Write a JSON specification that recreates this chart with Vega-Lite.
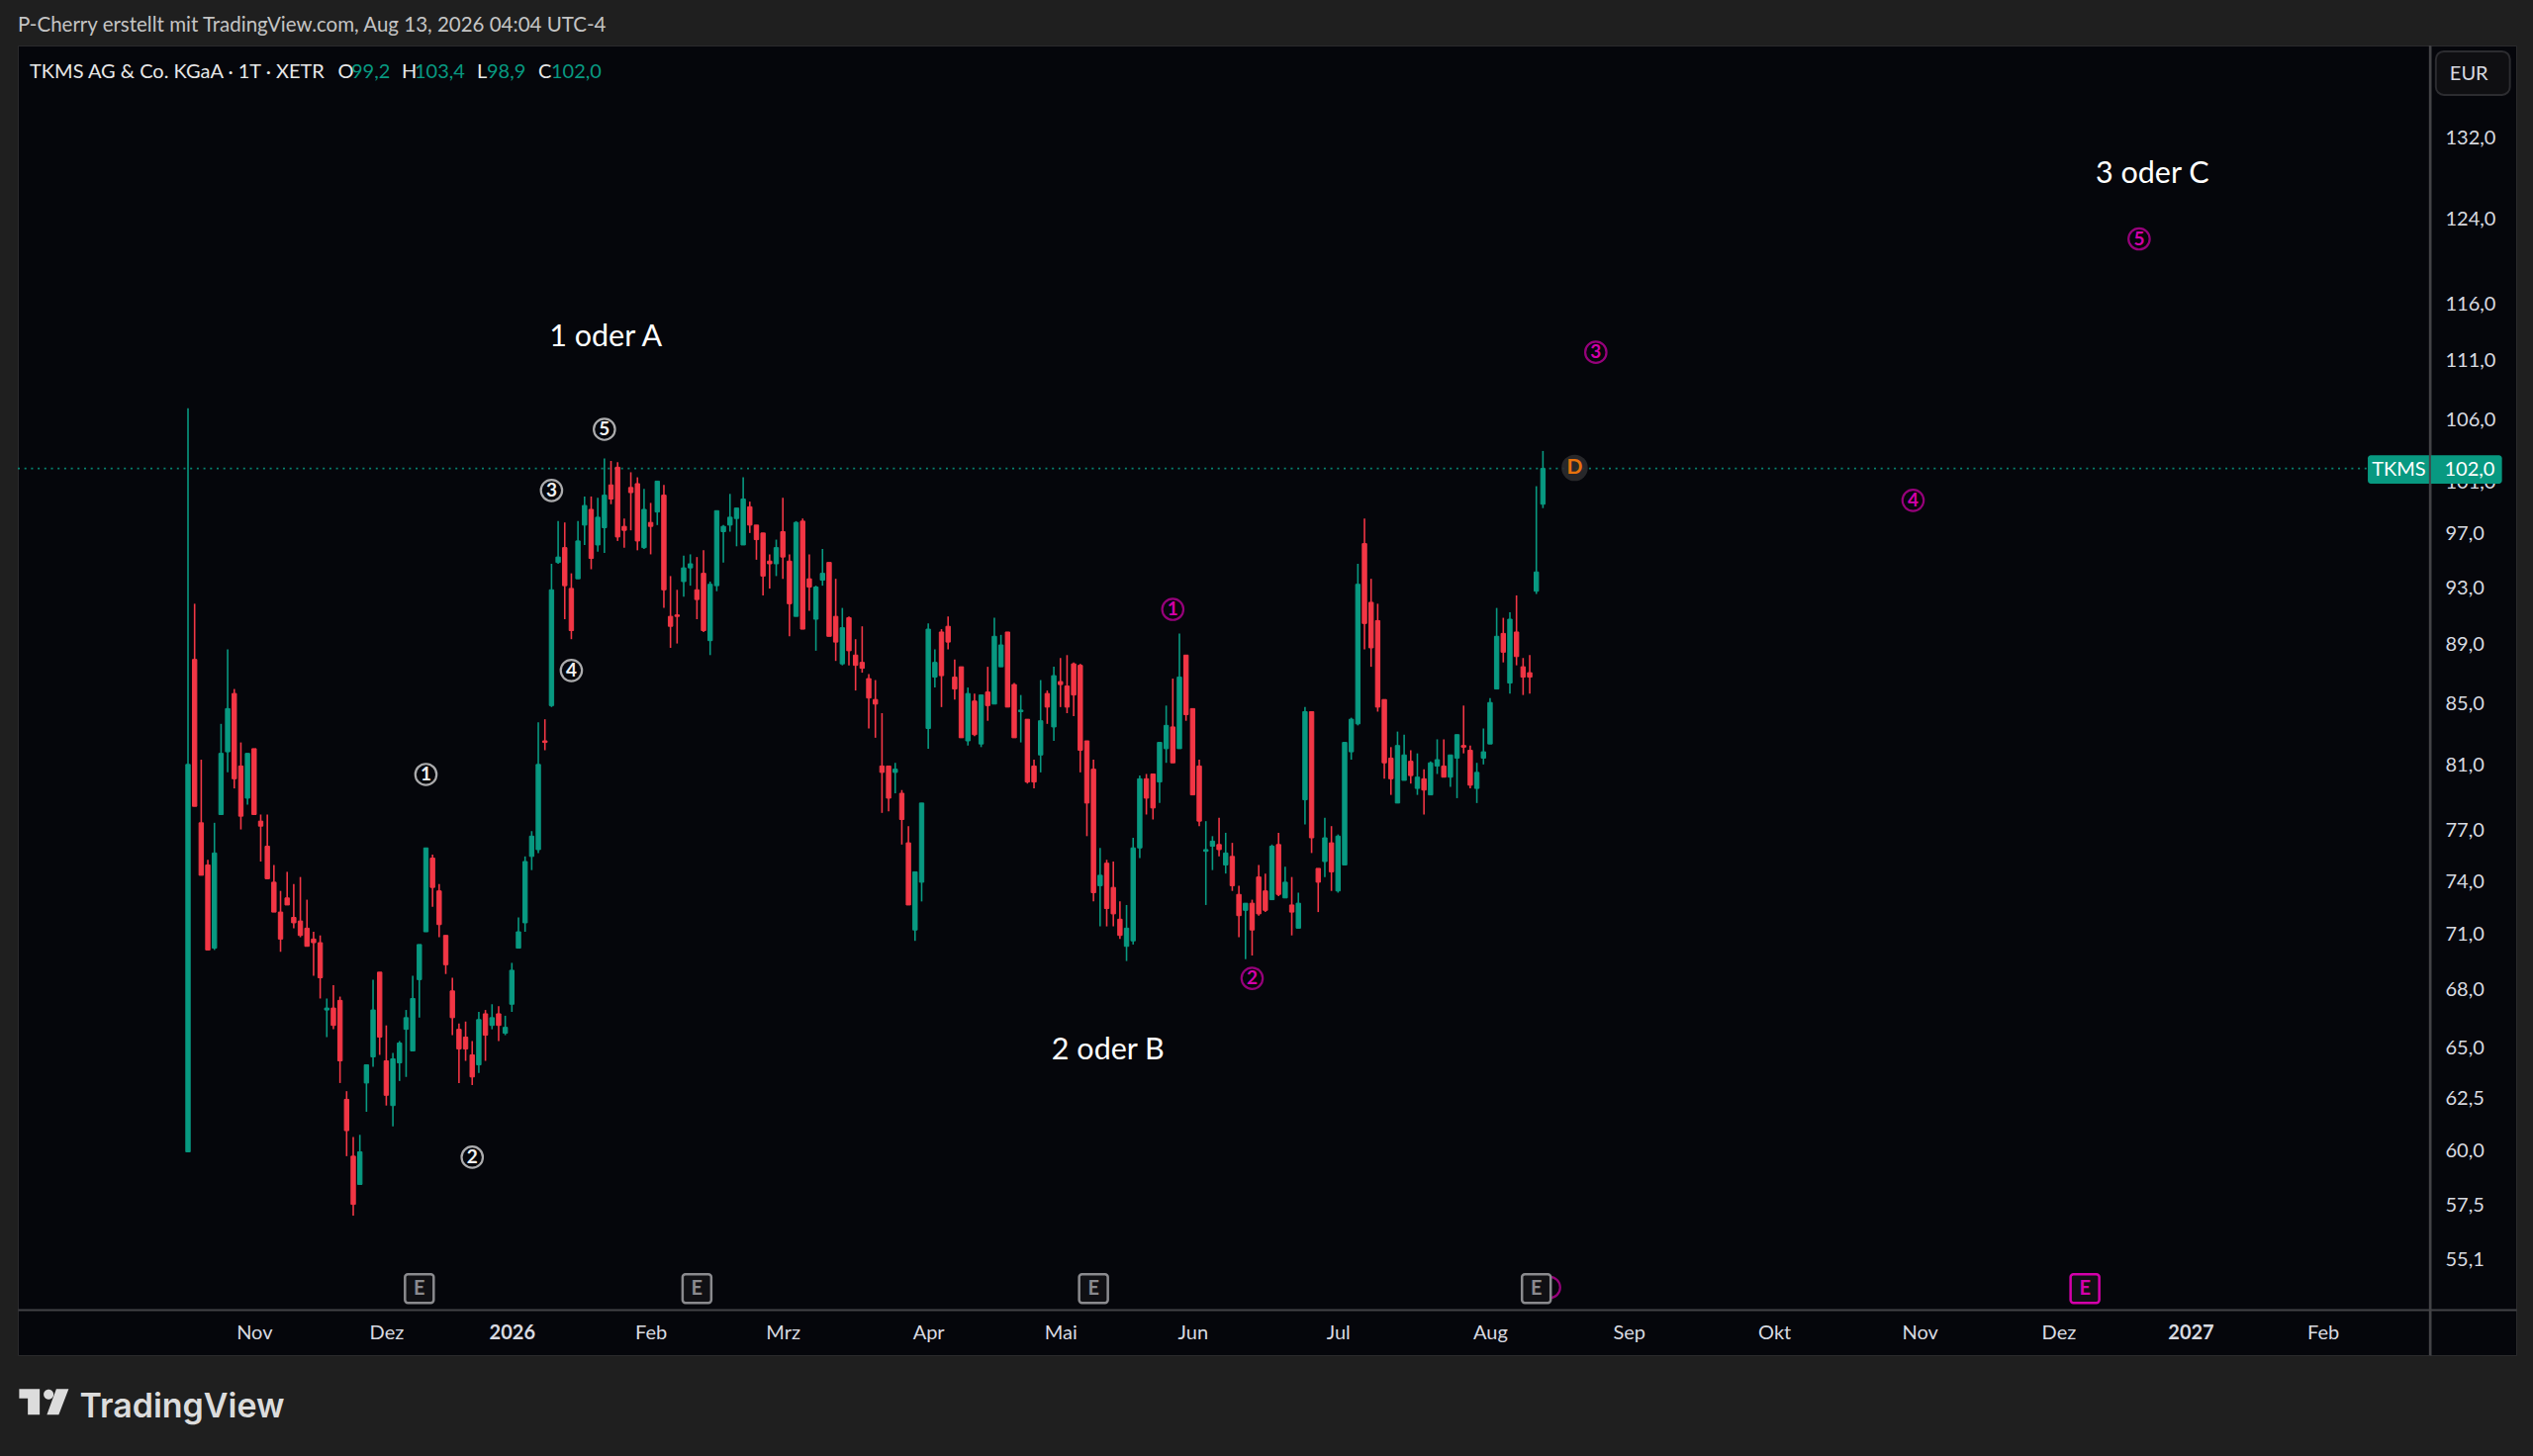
{
  "$schema": "https://vega.github.io/schema/vega-lite/v6.json",
  "width": 2525,
  "height": 1324,
  "autosize": {"type": "none"},
  "padding": {"left": 18, "top": 46, "right": 17, "bottom": 102},
  "background": "#1f1f1f",
  "view": {"fill": "#05060b", "stroke": "#2a2a2c"},
  "title": {
    "text": "P-Cherry erstellt mit TradingView.com, Aug 13, 2026 04:04 UTC-4",
    "anchor": "start",
    "frame": "group",
    "offset": 9,
    "font": "Lato",
    "fontSize": 20.5,
    "fontWeight": "normal",
    "color": "#c4c4c4"
  },
  "datasets": {
    "candles": [
      {"i":0,"o":59.9,"h":106.9,"l":59.9,"c":81.0},{"i":1,"o":87.9,"h":91.8,"l":78.4,"c":78.4},{"i":2,"o":77.4,"h":81.3,"l":74.3,"c":74.3},{"i":3,"o":74.9,"h":75.2,"l":70.1,"c":70.1},{"i":4,"o":70.2,"h":77.4,"l":70.1,"c":75.6},
      {"i":5,"o":77.9,"h":83.6,"l":77.9,"c":81.7},{"i":6,"o":81.8,"h":88.6,"l":80.5,"c":84.6},{"i":7,"o":85.6,"h":85.9,"l":79.5,"c":80.1},{"i":8,"o":80.9,"h":82.4,"l":77.0,"c":77.8},{"i":9,"o":78.9,"h":81.7,"l":78.5,"c":81.7},
      {"i":10,"o":82.0,"h":82.0,"l":77.9,"c":77.9},{"i":11,"o":77.5,"h":77.9,"l":75.1,"c":77.2},{"i":12,"o":76.0,"h":77.9,"l":74.1,"c":74.1},{"i":13,"o":73.9,"h":74.9,"l":72.2,"c":72.2},{"i":14,"o":72.2,"h":73.4,"l":70.0,"c":70.7},
      {"i":15,"o":73.0,"h":74.5,"l":72.6,"c":72.6},{"i":16,"o":71.9,"h":73.8,"l":71.3,"c":71.6},{"i":17,"o":71.7,"h":74.2,"l":70.8,"c":70.9},{"i":18,"o":71.3,"h":72.9,"l":70.3,"c":70.3},{"i":19,"o":70.7,"h":71.1,"l":68.7,"c":70.5},
      {"i":20,"o":70.5,"h":70.9,"l":67.5,"c":68.6},{"i":21,"o":66.9,"h":67.5,"l":65.5,"c":67.0},{"i":22,"o":67.0,"h":68.2,"l":65.9,"c":66.1},{"i":23,"o":67.4,"h":67.6,"l":63.2,"c":64.3},{"i":24,"o":62.4,"h":62.8,"l":59.7,"c":60.9},
      {"i":25,"o":59.7,"h":60.6,"l":57.0,"c":57.5},{"i":26,"o":58.4,"h":60.7,"l":58.4,"c":59.9},{"i":27,"o":63.2,"h":64.1,"l":61.8,"c":64.1},{"i":28,"o":64.5,"h":68.5,"l":64.0,"c":66.9},{"i":29,"o":68.9,"h":68.9,"l":64.6,"c":65.5},
      {"i":30,"o":64.3,"h":66.1,"l":62.1,"c":62.6},{"i":31,"o":62.1,"h":64.7,"l":61.1,"c":64.4},{"i":32,"o":64.2,"h":65.3,"l":63.3,"c":65.2},{"i":33,"o":65.9,"h":66.9,"l":63.5,"c":66.5},{"i":34,"o":64.8,"h":68.7,"l":64.8,"c":67.5},
      {"i":35,"o":68.5,"h":70.4,"l":66.5,"c":70.4},{"i":36,"o":71.1,"h":75.9,"l":71.1,"c":75.9},{"i":37,"o":75.3,"h":75.5,"l":72.5,"c":73.6},{"i":38,"o":73.4,"h":73.8,"l":70.8,"c":71.5},{"i":39,"o":70.9,"h":70.9,"l":68.8,"c":69.3},
      {"i":40,"o":67.9,"h":68.6,"l":65.6,"c":66.5},{"i":41,"o":65.9,"h":66.2,"l":63.2,"c":64.9},{"i":42,"o":65.5,"h":66.3,"l":64.3,"c":64.9},{"i":43,"o":64.6,"h":65.3,"l":63.1,"c":63.5},{"i":44,"o":64.1,"h":66.8,"l":63.7,"c":66.4},
      {"i":45,"o":66.7,"h":66.9,"l":64.3,"c":65.6},{"i":46,"o":66.1,"h":67.2,"l":65.9,"c":66.5},{"i":47,"o":66.7,"h":67.1,"l":65.3,"c":66.1},{"i":48,"o":65.7,"h":66.6,"l":65.6,"c":66.0},{"i":49,"o":67.2,"h":69.4,"l":66.8,"c":69.0},
      {"i":50,"o":70.2,"h":71.9,"l":70.2,"c":71.1},{"i":51,"o":71.6,"h":75.4,"l":71.1,"c":75.1},{"i":52,"o":75.4,"h":76.9,"l":74.6,"c":76.6},{"i":53,"o":75.8,"h":83.7,"l":75.6,"c":81.0},{"i":54,"o":82.5,"h":83.9,"l":81.9,"c":82.4},
      {"i":55,"o":84.8,"h":94.7,"l":84.7,"c":92.8},{"i":56,"o":94.8,"h":97.9,"l":94.7,"c":95.2},{"i":57,"o":95.9,"h":97.8,"l":90.7,"c":93.1},{"i":58,"o":92.9,"h":94.0,"l":89.3,"c":89.9},{"i":59,"o":93.6,"h":97.9,"l":93.6,"c":96.4},
      {"i":60,"o":97.6,"h":99.8,"l":96.1,"c":99.1},{"i":61,"o":98.8,"h":99.8,"l":94.3,"c":95.1},{"i":62,"o":96.1,"h":99.7,"l":95.6,"c":98.2},{"i":63,"o":97.4,"h":102.8,"l":95.5,"c":99.9},{"i":64,"o":100.7,"h":102.6,"l":99.2,"c":99.6},
      {"i":65,"o":102.1,"h":102.5,"l":96.4,"c":96.7},{"i":66,"o":97.5,"h":98.1,"l":95.9,"c":97.2},{"i":67,"o":100.5,"h":101.7,"l":97.2,"c":100.1},{"i":68,"o":100.8,"h":101.3,"l":95.7,"c":96.4},{"i":69,"o":95.9,"h":100.4,"l":95.8,"c":98.8},
      {"i":70,"o":97.8,"h":99.3,"l":95.4,"c":97.5},{"i":71,"o":98.6,"h":101.0,"l":97.6,"c":101.0},{"i":72,"o":99.9,"h":100.7,"l":91.5,"c":92.8},{"i":73,"o":90.9,"h":93.8,"l":88.7,"c":90.2},{"i":74,"o":91.0,"h":92.8,"l":89.0,"c":90.9},
      {"i":75,"o":93.4,"h":95.3,"l":92.3,"c":94.4},{"i":76,"o":94.4,"h":95.4,"l":93.1,"c":94.7},{"i":77,"o":92.8,"h":95.2,"l":90.7,"c":92.1},{"i":78,"o":94.0,"h":95.7,"l":89.8,"c":89.9},{"i":79,"o":89.2,"h":93.4,"l":88.2,"c":93.2},
      {"i":80,"o":93.1,"h":98.7,"l":92.7,"c":98.7},{"i":81,"o":97.1,"h":97.6,"l":94.8,"c":97.5},{"i":82,"o":97.6,"h":100.0,"l":97.1,"c":98.2},{"i":83,"o":98.1,"h":98.9,"l":96.0,"c":98.9},{"i":84,"o":96.1,"h":101.3,"l":96.1,"c":99.6},
      {"i":85,"o":99.0,"h":99.4,"l":97.0,"c":97.6},{"i":86,"o":97.6,"h":97.6,"l":95.0,"c":96.5},{"i":87,"o":97.0,"h":97.0,"l":92.4,"c":93.8},{"i":88,"o":94.9,"h":95.4,"l":92.9,"c":94.7},{"i":89,"o":94.7,"h":96.5,"l":93.8,"c":95.9},
      {"i":90,"o":97.1,"h":99.7,"l":93.6,"c":95.2},{"i":91,"o":94.9,"h":95.4,"l":89.5,"c":91.8},{"i":92,"o":90.9,"h":97.9,"l":90.9,"c":97.8},{"i":93,"o":97.9,"h":98.1,"l":90.0,"c":90.0},{"i":94,"o":93.6,"h":95.4,"l":91.3,"c":93.0},
      {"i":95,"o":90.7,"h":93.1,"l":88.5,"c":93.0},{"i":96,"o":93.5,"h":95.8,"l":93.1,"c":94.0},{"i":97,"o":94.8,"h":94.8,"l":89.5,"c":89.5},{"i":98,"o":90.9,"h":93.6,"l":87.8,"c":89.1},{"i":99,"o":87.6,"h":91.5,"l":87.5,"c":90.1},
      {"i":100,"o":90.8,"h":90.9,"l":87.5,"c":88.5},{"i":101,"o":88.2,"h":89.3,"l":85.8,"c":87.5},{"i":102,"o":87.7,"h":90.2,"l":87.0,"c":87.3},{"i":103,"o":86.6,"h":86.9,"l":83.3,"c":85.3},{"i":104,"o":85.2,"h":86.5,"l":82.7,"c":84.9},
      {"i":105,"o":80.9,"h":84.3,"l":78.0,"c":80.5},{"i":106,"o":80.9,"h":80.9,"l":78.1,"c":78.9},{"i":107,"o":80.5,"h":81.1,"l":79.2,"c":80.7},{"i":108,"o":79.2,"h":79.4,"l":76.1,"c":77.6},{"i":109,"o":76.2,"h":77.2,"l":72.6,"c":72.6},
      {"i":110,"o":71.2,"h":74.5,"l":70.6,"c":74.5},{"i":111,"o":73.9,"h":78.6,"l":72.8,"c":78.6},{"i":112,"o":83.3,"h":90.4,"l":82.0,"c":90.0},{"i":113,"o":86.7,"h":88.6,"l":86.0,"c":87.7},{"i":114,"o":89.8,"h":90.0,"l":84.7,"c":86.8},
      {"i":115,"o":90.2,"h":90.9,"l":88.6,"c":89.1},{"i":116,"o":86.7,"h":87.9,"l":85.2,"c":85.9},{"i":117,"o":87.4,"h":87.4,"l":82.7,"c":82.7},{"i":118,"o":82.5,"h":86.0,"l":82.2,"c":85.6},{"i":119,"o":85.1,"h":85.6,"l":82.8,"c":82.9},
      {"i":120,"o":82.3,"h":85.5,"l":82.1,"c":85.5},{"i":121,"o":85.7,"h":87.4,"l":83.8,"c":84.8},{"i":122,"o":84.9,"h":90.8,"l":84.9,"c":89.5},{"i":123,"o":87.4,"h":89.6,"l":87.4,"c":88.9},{"i":124,"o":89.8,"h":89.8,"l":84.7,"c":84.7},
      {"i":125,"o":86.2,"h":86.3,"l":82.7,"c":82.7},{"i":126,"o":84.4,"h":85.5,"l":82.4,"c":84.5},{"i":127,"o":83.9,"h":83.9,"l":79.8,"c":79.9},{"i":128,"o":80.9,"h":81.3,"l":79.5,"c":79.9},{"i":129,"o":81.6,"h":86.5,"l":80.5,"c":83.8},
      {"i":130,"o":85.6,"h":85.8,"l":83.6,"c":84.7},{"i":131,"o":83.4,"h":87.4,"l":82.5,"c":86.8},{"i":132,"o":86.4,"h":88.0,"l":84.7,"c":86.2},{"i":133,"o":86.1,"h":88.2,"l":84.3,"c":84.7},{"i":134,"o":87.6,"h":87.7,"l":84.1,"c":85.5},
      {"i":135,"o":87.5,"h":87.6,"l":80.5,"c":81.9},{"i":136,"o":82.5,"h":82.5,"l":76.6,"c":78.6},{"i":137,"o":80.7,"h":81.3,"l":72.8,"c":73.3},{"i":138,"o":73.7,"h":75.9,"l":71.4,"c":74.3},{"i":139,"o":75.0,"h":75.2,"l":71.4,"c":72.4},
      {"i":140,"o":73.6,"h":75.1,"l":71.4,"c":72.1},{"i":141,"o":71.8,"h":72.8,"l":70.7,"c":70.9},{"i":142,"o":70.3,"h":72.6,"l":69.5,"c":71.3},{"i":143,"o":70.6,"h":76.5,"l":70.4,"c":75.9},{"i":144,"o":75.9,"h":80.3,"l":75.3,"c":80.1},
      {"i":145,"o":80.1,"h":80.4,"l":77.9,"c":78.9},{"i":146,"o":80.4,"h":80.4,"l":77.6,"c":78.3},{"i":147,"o":79.9,"h":82.4,"l":78.6,"c":82.4},{"i":148,"o":82.0,"h":84.8,"l":81.1,"c":83.5},{"i":149,"o":83.4,"h":86.6,"l":81.1,"c":81.1},
      {"i":150,"o":82.0,"h":89.7,"l":82.0,"c":86.7},{"i":151,"o":88.2,"h":88.2,"l":83.8,"c":84.2},{"i":152,"o":84.6,"h":84.6,"l":79.1,"c":79.1},{"i":153,"o":80.9,"h":81.3,"l":77.2,"c":77.5},{"i":154,"o":75.7,"h":77.5,"l":72.6,"c":75.8},
      {"i":155,"o":76.0,"h":76.6,"l":74.6,"c":76.3},{"i":156,"o":76.1,"h":77.7,"l":75.4,"c":75.8},{"i":157,"o":74.9,"h":76.8,"l":74.4,"c":75.6},{"i":158,"o":75.4,"h":76.2,"l":73.4,"c":73.7},{"i":159,"o":73.2,"h":73.7,"l":70.8,"c":72.0},
      {"i":160,"o":72.3,"h":72.7,"l":69.6,"c":72.7},{"i":161,"o":72.7,"h":72.9,"l":69.8,"c":71.2},{"i":162,"o":74.2,"h":74.9,"l":72.0,"c":72.1},{"i":163,"o":73.4,"h":74.4,"l":72.2,"c":72.3},{"i":164,"o":72.9,"h":76.1,"l":72.9,"c":76.0},
      {"i":165,"o":76.1,"h":76.8,"l":73.1,"c":73.2},{"i":166,"o":73.0,"h":74.8,"l":73.0,"c":73.9},{"i":167,"o":72.6,"h":74.2,"l":70.9,"c":72.2},{"i":168,"o":71.3,"h":73.3,"l":71.3,"c":72.7},{"i":169,"o":78.8,"h":84.7,"l":77.3,"c":84.4},
      {"i":170,"o":84.4,"h":84.4,"l":75.6,"c":76.5},{"i":171,"o":74.7,"h":74.7,"l":72.2,"c":73.9},{"i":172,"o":75.1,"h":77.7,"l":74.2,"c":76.5},{"i":173,"o":76.2,"h":77.2,"l":73.4,"c":74.5},{"i":174,"o":73.4,"h":76.7,"l":73.3,"c":76.6},
      {"i":175,"o":74.9,"h":82.4,"l":74.9,"c":82.4},{"i":176,"o":81.8,"h":84.0,"l":81.3,"c":83.9},{"i":177,"o":83.6,"h":94.7,"l":83.5,"c":93.2},{"i":178,"o":96.2,"h":98.1,"l":88.6,"c":90.4},{"i":179,"o":91.9,"h":93.6,"l":87.4,"c":88.7},
      {"i":180,"o":90.6,"h":91.8,"l":84.4,"c":84.7},{"i":181,"o":85.2,"h":85.2,"l":80.1,"c":81.1},{"i":182,"o":81.4,"h":82.1,"l":79.1,"c":80.1},{"i":183,"o":78.6,"h":83.1,"l":78.6,"c":82.2},{"i":184,"o":80.0,"h":82.9,"l":80.0,"c":81.6},
      {"i":185,"o":81.2,"h":81.9,"l":79.8,"c":80.3},{"i":186,"o":79.5,"h":81.7,"l":79.1,"c":80.2},{"i":187,"o":80.1,"h":80.7,"l":77.9,"c":79.4},{"i":188,"o":79.1,"h":81.2,"l":79.1,"c":81.1},{"i":189,"o":80.9,"h":82.6,"l":80.4,"c":81.3},
      {"i":190,"o":80.9,"h":82.6,"l":80.2,"c":80.2},{"i":191,"o":80.2,"h":81.6,"l":79.6,"c":81.6},{"i":192,"o":81.4,"h":82.9,"l":78.9,"c":82.9},{"i":193,"o":82.2,"h":84.8,"l":81.7,"c":82.1},{"i":194,"o":81.9,"h":82.2,"l":79.5,"c":79.7},
      {"i":195,"o":79.5,"h":81.1,"l":78.6,"c":80.5},{"i":196,"o":81.4,"h":83.3,"l":81.0,"c":81.8},{"i":197,"o":82.3,"h":85.3,"l":82.3,"c":85.0},{"i":198,"o":85.9,"h":91.5,"l":85.9,"c":89.5},{"i":199,"o":89.7,"h":90.8,"l":87.7,"c":88.4},
      {"i":200,"o":86.3,"h":91.2,"l":85.6,"c":90.7},{"i":201,"o":89.8,"h":92.4,"l":87.5,"c":88.1},{"i":202,"o":87.4,"h":88.0,"l":85.5,"c":86.7},{"i":203,"o":87.0,"h":88.2,"l":85.6,"c":86.7},{"i":204,"o":92.7,"h":100.6,"l":92.5,"c":94.1},
      {"i":205,"o":99.2,"h":103.4,"l":98.9,"c":102.0}
    ],
    "waves": [
      {"i":36,"p":80.37,"t":"1","s":"white"},{"i":43,"p":59.65,"t":"2","s":"white"},{"i":55,"p":100.27,"t":"3","s":"white"},{"i":58,"p":87.15,"t":"4","s":"white"},{"i":63,"p":105.16,"t":"5","s":"white"},
      {"i":149,"p":91.4,"t":"1","s":"magenta"},{"i":161,"p":68.57,"t":"2","s":"magenta"},{"i":213,"p":111.66,"t":"3","s":"magenta"},{"i":261,"p":99.5,"t":"4","s":"magenta"},{"i":295.2,"p":121.97,"t":"5","s":"magenta"},
      {"i":206,"p":53.9,"t":"","s":"magenta"}
    ],
    "earnings": [
      {"i":35,"p":53.85,"t":"E","s":"grey"},{"i":77,"p":53.85,"t":"E","s":"grey"},{"i":137,"p":53.85,"t":"E","s":"grey"},{"i":204,"p":53.85,"t":"E","s":"grey"},{"i":287,"p":53.85,"t":"E","s":"magenta"}
    ]
  },
  "encoding": {
    "x": {
      "field": "i",
      "type": "quantitative",
      "scale": {"domain": [-25.75, 352.25], "nice": false, "zero": false, "padding": 0},
      "axis": {
        "orient": "bottom",
        "offset": -46,
        "title": null,
        "grid": false,
        "ticks": false,
        "domainColor": "#434347",
        "domainWidth": 2,
        "labelFont": "Lato",
        "labelFontSize": 20,
        "labelColor": "#d8dae0",
        "labelPadding": 23,
        "labelBaseline": "middle",
        "labelOverlap": false,
        "labelBound": false,
        "labelFlush": false,
        "values": [10, 30, 49, 70, 90, 112, 132, 152, 174, 197, 218, 240, 262, 283, 303, 323],
        "labelExpr": "{'10':'Nov','30':'Dez','49':'2026','70':'Feb','90':'Mrz','112':'Apr','132':'Mai','152':'Jun','174':'Jul','197':'Aug','218':'Sep','240':'Okt','262':'Nov','283':'Dez','303':'2027','323':'Feb'}[datum.value]",
        "labelFontWeight": {"condition": {"test": "datum.value == 49 || datum.value == 303", "value": "bold"}, "value": "normal"}
      }
    },
    "y": {
      "field": "p",
      "type": "quantitative",
      "scale": {"type": "log", "domain": [51.13, 141.8], "nice": false, "zero": false},
      "axis": {
        "orient": "right",
        "offset": -87,
        "title": null,
        "grid": false,
        "ticks": false,
        "domainColor": "#434347",
        "domainWidth": 2,
        "labelFont": "Lato",
        "labelFontSize": 20,
        "labelColor": "#d8dae0",
        "labelPadding": 15,
        "labelOffset": 1,
        "labelBaseline": "middle",
        "labelOverlap": false,
        "labelBound": false,
        "values": [132, 124, 116, 111, 106, 101, 97, 93, 89, 85, 81, 77, 74, 71, 68, 65, 62.5, 60, 57.5, 55.1],
        "labelExpr": "replace(format(datum.value, '.1f'), '.', ',')"
      }
    }
  },
  "layer": [
    {
      "data": {"values": [{"i": -25.75, "i2": 329.8, "p": 102}]},
      "mark": {"type": "rule", "stroke": "#089981", "strokeWidth": 1.6, "strokeDash": [2, 4.7], "opacity": 0.85},
      "encoding": {"x2": {"field": "i2"}}
    },
    {
      "data": {"name": "candles"},
      "mark": {"type": "rule", "strokeWidth": 1.6},
      "encoding": {
        "y": {
          "field": "l",
          "type": "quantitative",
          "scale": {"type": "log", "domain": [51.13, 141.8], "nice": false, "zero": false},
          "axis": {"orient": "right", "offset": -87, "title": null, "grid": false, "ticks": false, "domainColor": "#434347", "domainWidth": 2, "labelFont": "Lato", "labelFontSize": 20, "labelColor": "#d8dae0", "labelPadding": 15, "labelOffset": 1, "labelBaseline": "middle", "labelOverlap": false, "labelBound": false, "values": [132, 124, 116, 111, 106, 101, 97, 93, 89, 85, 81, 77, 74, 71, 68, 65, 62.5, 60, 57.5, 55.1], "labelExpr": "replace(format(datum.value, '.1f'), '.', ',')"}
        },
        "y2": {"field": "h"},
        "color": {"condition": {"test": "datum.c >= datum.o", "value": "#089981"}, "value": "#f23645"}
      }
    },
    {
      "data": {"name": "candles"},
      "mark": {"type": "bar", "size": 4.4, "strokeWidth": 1},
      "encoding": {
        "y": {
          "field": "o",
          "type": "quantitative",
          "scale": {"type": "log", "domain": [51.13, 141.8], "nice": false, "zero": false},
          "axis": {"orient": "right", "offset": -87, "title": null, "grid": false, "ticks": false, "domainColor": "#434347", "domainWidth": 2, "labelFont": "Lato", "labelFontSize": 20, "labelColor": "#d8dae0", "labelPadding": 15, "labelOffset": 1, "labelBaseline": "middle", "labelOverlap": false, "labelBound": false, "values": [132, 124, 116, 111, 106, 101, 97, 93, 89, 85, 81, 77, 74, 71, 68, 65, 62.5, 60, 57.5, 55.1], "labelExpr": "replace(format(datum.value, '.1f'), '.', ',')"}
        },
        "y2": {"field": "c"},
        "fill": {"condition": {"test": "datum.c >= datum.o", "value": "#089981"}, "value": "#f23645"},
        "stroke": {"condition": {"test": "datum.c >= datum.o", "value": "#089981"}, "value": "#f23645"}
      }
    },
    {
      "data": {"values": [{"i": 63.2, "p": 113.1, "t": "1 oder A"}, {"i": 139.2, "p": 64.88, "t": "2 oder B"}, {"i": 297.2, "p": 128.4, "t": "3 oder C"}]},
      "mark": {"type": "text", "font": "Lato", "fontSize": 30.5, "color": "#ffffff", "align": "center", "baseline": "middle", "dy": 1.5},
      "encoding": {"text": {"field": "t"}}
    },
    {
      "data": {"name": "waves"},
      "mark": {"type": "point", "shape": "circle", "size": 460, "strokeWidth": 2.2, "filled": false},
      "encoding": {
        "stroke": {"field": "s", "type": "nominal", "scale": {"domain": ["white", "magenta", "grey"], "range": ["#f2f2f2", "#d400aa", "#8a8a8e"]}, "legend": null}
      }
    },
    {
      "data": {"name": "waves"},
      "mark": {"type": "text", "font": "Lato", "fontSize": 19, "fontWeight": "bold", "align": "center", "baseline": "middle"},
      "encoding": {
        "text": {"field": "t"},
        "fill": {"field": "s", "type": "nominal", "scale": {"domain": ["white", "magenta", "grey"], "range": ["#f2f2f2", "#d400aa", "#8a8a8e"]}, "legend": null}
      }
    },
    {
      "data": {"name": "earnings"},
      "mark": {
        "type": "point",
        "shape": "M-0.8,-1H0.8A0.2,0.2 0 0 1 1,-0.8V0.8A0.2,0.2 0 0 1 0.8,1H-0.8A0.2,0.2 0 0 1 -1,0.8V-0.8A0.2,0.2 0 0 1 -0.8,-1Z",
        "size": 841,
        "strokeWidth": 2.5,
        "fill": "#101014",
        "fillOpacity": 1,
        "filled": true
      },
      "encoding": {
        "stroke": {"field": "s", "type": "nominal", "scale": {"domain": ["white", "magenta", "grey"], "range": ["#f2f2f2", "#d400aa", "#8a8a8e"]}, "legend": null}
      }
    },
    {
      "data": {"name": "earnings"},
      "mark": {"type": "text", "font": "Lato", "fontSize": 20, "fontWeight": "bold", "align": "center", "baseline": "middle"},
      "encoding": {
        "text": {"field": "t"},
        "fill": {"field": "s", "type": "nominal", "scale": {"domain": ["white", "magenta", "grey"], "range": ["#f2f2f2", "#d400aa", "#8a8a8e"]}, "legend": null}
      }
    },
    {
      "data": {"values": [{"i": 209.8, "p": 102.05}]},
      "mark": {"type": "point", "shape": "circle", "size": 707, "filled": true, "fill": "#2b2b2e", "fillOpacity": 0.9, "strokeWidth": 0}
    },
    {
      "data": {"values": [{"i": 209.8, "p": 102.05, "t": "D"}]},
      "mark": {"type": "text", "font": "Lato", "fontSize": 21, "fontWeight": "bold", "color": "#e8720c", "align": "center", "baseline": "middle"},
      "encoding": {"text": {"field": "t"}}
    },
    {
      "data": {"values": [{"i": 329.8, "i2": 350.1, "p": 103.05, "p2": 100.8}]},
      "mark": {"type": "rect", "color": "#089981", "cornerRadius": 3},
      "encoding": {"x2": {"field": "i2"}, "y2": {"field": "p2"}}
    },
    {
      "data": {"values": [{"i": 339.2, "p": 141.8, "p2": 51.13}]},
      "mark": {"type": "rule", "stroke": "#434347", "strokeWidth": 2},
      "encoding": {"y2": {"field": "p2"}}
    },
    {
      "data": {"values": [{"i": 334.5, "p": 101.9, "t": "TKMS"}, {"i": 345.2, "p": 101.9, "t": "102,0"}]},
      "mark": {"type": "text", "font": "Lato", "fontSize": 20, "color": "#ffffff", "align": "center", "baseline": "middle"},
      "encoding": {"text": {"field": "t"}}
    },
    {
      "data": {"values": [{"i": 340.1, "i2": 351.3, "p": 141.15, "p2": 136.45}]},
      "mark": {"type": "rect", "fill": "#0f0f12", "stroke": "#2c2c30", "strokeWidth": 2, "cornerRadius": 8},
      "encoding": {"x2": {"field": "i2"}, "y2": {"field": "p2"}}
    },
    {
      "data": {"values": [{"i": 345.1, "p": 138.7, "t": "EUR"}]},
      "mark": {"type": "text", "font": "Lato", "fontSize": 20, "color": "#d8dae0", "align": "center", "baseline": "middle"},
      "encoding": {"text": {"field": "t"}}
    },
    {
      "data": {"values": [
        {"i": -23.95, "p": 139, "t": "TKMS AG & Co. KGaA · 1T · XETR"},
        {"i": 22.68, "p": 139, "t": "O"},
        {"i": 32.34, "p": 139, "t": "H"},
        {"i": 43.71, "p": 139, "t": "L"},
        {"i": 53.0, "p": 139, "t": "C"}
      ]},
      "mark": {"type": "text", "font": "Lato", "fontSize": 20, "color": "#e8e8e8", "align": "left", "baseline": "middle", "dy": 1},
      "encoding": {"text": {"field": "t"}}
    },
    {
      "data": {"values": [
        {"i": 24.7, "p": 139, "t": "99,2"},
        {"i": 34.28, "p": 139, "t": "103,4"},
        {"i": 45.2, "p": 139, "t": "98,9"},
        {"i": 54.94, "p": 139, "t": "102,0"}
      ]},
      "mark": {"type": "text", "font": "Lato", "fontSize": 20, "color": "#089981", "align": "left", "baseline": "middle", "dy": 1},
      "encoding": {"text": {"field": "t"}}
    },
    {
      "data": {"values": [{"i": -16.4, "p": 49.1, "t": "TradingView"}]},
      "mark": {"type": "text", "font": "Inter", "fontSize": 34, "fontWeight": 600, "color": "#dcdcdc", "align": "left", "baseline": "middle", "clip": false},
      "encoding": {"text": {"field": "t"}}
    },
    {
      "data": {"values": [{"i": -21.8, "p": 49.3}]},
      "mark": {
        "type": "point",
        "shape": "M-1,-0.52H-0.17V0.52H-0.65V-0.14H-1ZM-0.01,-0.3A0.2,0.2 0 1 0 0.39,-0.3A0.2,0.2 0 1 0 -0.01,-0.3ZM0.5,-0.52H1L0.6,0.52H0.12Z",
        "size": 2500,
        "filled": true,
        "fill": "#dcdcdc",
        "fillOpacity": 1,
        "strokeWidth": 0,
        "clip": false
      }
    }
  ]
}
